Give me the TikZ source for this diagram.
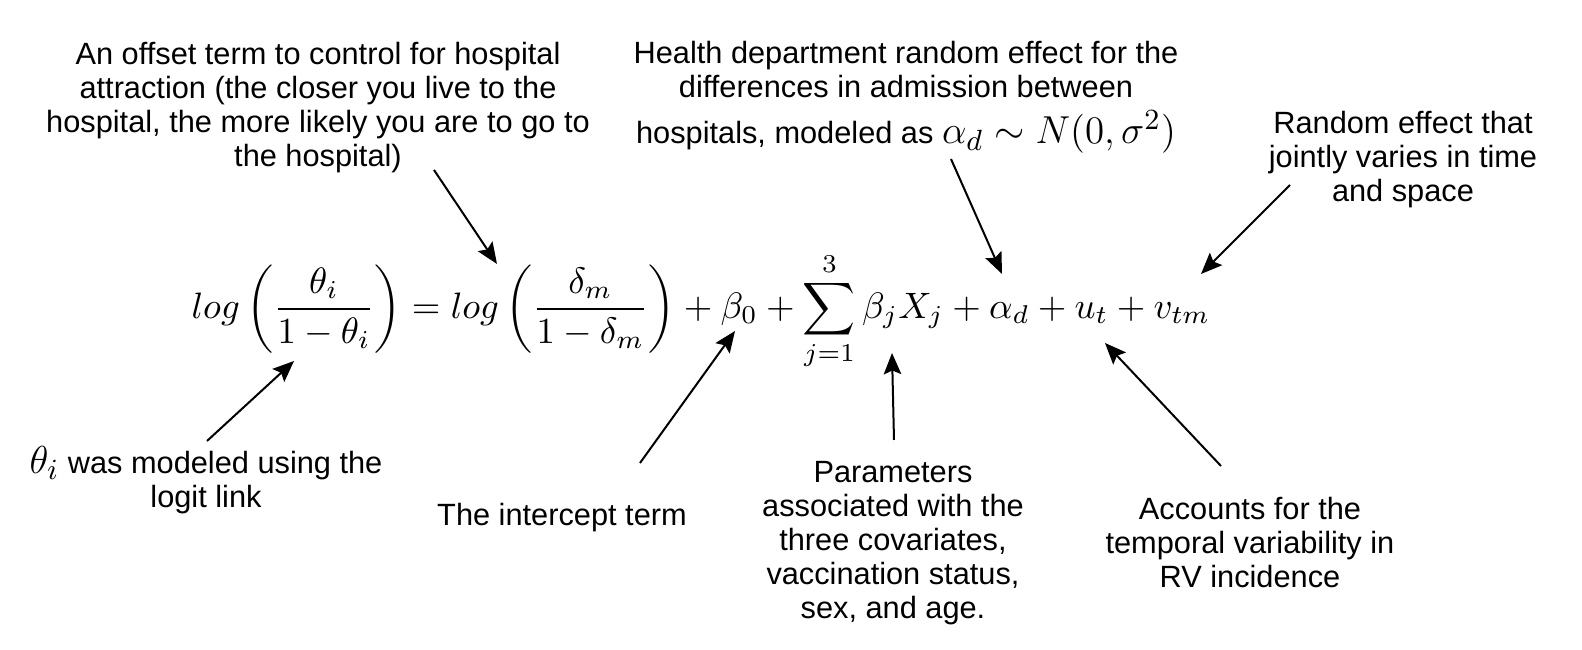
\documentclass[tikz,border=0pt]{standalone}
\usepackage{fontspec}
\setsansfont{Liberation Sans}
\usetikzlibrary{arrows.meta}
\tikzset{
  note/.style={font=\sffamily\fontsize{12.3}{13.6}\selectfont, align=center, inner sep=0pt},
  pointer/.style={-{Stealth[length=8.5pt,width=7pt,inset=1.5pt]}, line width=0.8pt},
}
\begin{document}
\begin{tikzpicture}[x=0.4pt,y=-0.4pt]
\useasboundingbox (0,0) rectangle (1582,650);

\node[scale=1.47] (eq) at (701,311) {$\displaystyle log\left(\frac{\theta_i}{1-\theta_i}\right)=log\left(\frac{\delta_m}{1-\delta_m}\right)+\beta_0+\sum_{j=1}^{3}\beta_jX_j+\alpha_d+u_t+v_{tm}$};

\node[note] (offset) at (318,108) {An offset term to control for hospital\\attraction (the closer you live to the\\hospital, the more likely you are to go to\\the hospital)};
\node[note] (health) at (906,97) {Health department random effect for the\\differences in admission between\\[5pt]hospitals, modeled as \scalebox{1.3}{$\alpha_d\sim N(0,\sigma^2)$}};
\node[note] (joint) at (1403,160) {Random effect that\\jointly varies in time\\and space};
\node[note] (logit) at (206,480) {\scalebox{1.3}{$\theta_i$} was modeled using the\\logit link};
\node[note] (icpt) at (562,518) {The intercept term};
\node[note] (param) at (893,543) {Parameters\\associated with the\\three covariates,\\vaccination status,\\sex, and age.};
\node[note] (temp) at (1250,543) {Accounts for the\\temporal variability in\\RV incidence};

\coordinate (offset-from) at (434,170);
\coordinate (offset-to) at (497,264);
\coordinate (health-from) at (951,159);
\coordinate (health-to) at (1002,274);
\coordinate (joint-from) at (1290,185);
\coordinate (joint-to) at (1201,274);
\coordinate (logit-from) at (207,441);
\coordinate (logit-to) at (294,361);
\coordinate (icpt-from) at (640,463);
\coordinate (icpt-to) at (735,331);
\coordinate (param-from) at (894,440);
\coordinate (param-to) at (892,353);
\coordinate (temp-from) at (1221,466);
\coordinate (temp-to) at (1105,343);

\draw[pointer] (offset-from) -- (offset-to);
\draw[pointer] (health-from) -- (health-to);
\draw[pointer] (joint-from) -- (joint-to);
\draw[pointer] (logit-from) -- (logit-to);
\draw[pointer] (icpt-from) -- (icpt-to);
\draw[pointer] (param-from) -- (param-to);
\draw[pointer] (temp-from) -- (temp-to);
\end{tikzpicture}
\end{document}
